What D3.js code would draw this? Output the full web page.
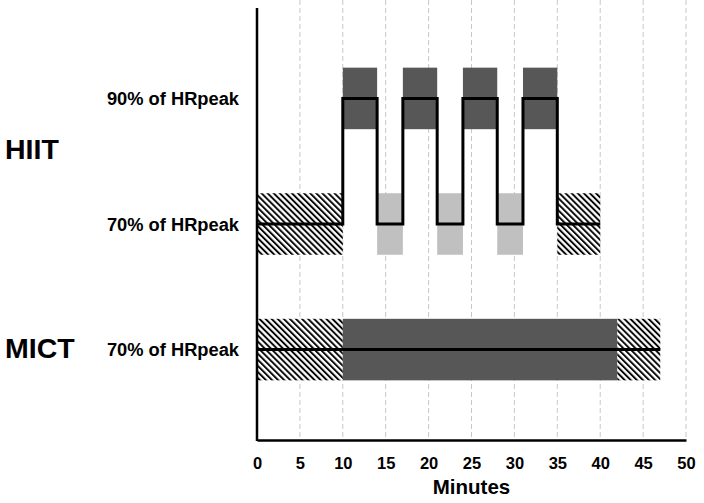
<!DOCTYPE html>
<html><head><meta charset="utf-8">
<script src="https://cdn.jsdelivr.net/npm/d3@7"></script>
<style>body{margin:0;background:#fff;} text{font-family:"Liberation Sans",Arial,sans-serif;font-weight:bold;fill:#000;}</style>
</head><body>
<svg id="c" width="704" height="503"></svg>
<script>
// ---- data ----
const rows = ["HIIT 90%", "HIIT 70%", "MICT 70%"];
const rowLabels = ["90% of HRpeak", "70% of HRpeak", "70% of HRpeak"];
const groupLabels = ["HIIT", "MICT"];
const xTicks = [0, 5, 10, 15, 20, 25, 30, 35, 40, 45, 50];
// HIIT blocks: [start, end, row, kind]
const hiitStart = [0, 10, 14, 17, 21, 24, 28, 31, 35];
const hiitEnd   = [10, 14, 17, 21, 24, 28, 31, 35, 40];
const hiitRow   = ["HIIT 70%", "HIIT 90%", "HIIT 70%", "HIIT 90%", "HIIT 70%", "HIIT 90%", "HIIT 70%", "HIIT 90%", "HIIT 70%"];
const hiitKind  = ["hatch", "dark", "light", "dark", "light", "dark", "light", "dark", "hatch"];
// MICT blocks
const mictStart = [0, 10, 42];
const mictEnd   = [10, 42, 47];
const mictRow   = ["MICT 70%", "MICT 70%", "MICT 70%"];
const mictKind  = ["hatch", "dark", "hatch"];

// ---- drawing ----
const svg = d3.select("#c");
const x = d3.scaleLinear().domain([0, 50]).range([257, 686]);
const y = d3.scalePoint().domain(rows).range([8, 440]).padding(0.72);
const half = y.step() * 0.245;
const fills = {dark: "#575757", light: "#c0c0c0", hatch: "url(#hatch)"};

const defs = svg.append("defs");
const pat = defs.append("pattern").attr("id", "hatch").attr("patternUnits", "userSpaceOnUse")
  .attr("width", 4.3).attr("height", 4.3).attr("patternTransform", "rotate(-45)");
pat.append("rect").attr("width", 4.3).attr("height", 4.3).attr("fill", "#fff");
pat.append("line").attr("x1", 1).attr("x2", 1).attr("y1", 0).attr("y2", 4.3)
  .attr("stroke", "#000").attr("stroke-width", 1.9);

// grid
svg.append("g").selectAll("line").data(xTicks.filter(d => d > 0)).join("line")
  .attr("x1", d => x(d)).attr("x2", d => x(d)).attr("y1", 0).attr("y2", 438)
  .attr("stroke", "#c8c8c8").attr("stroke-width", 1).attr("stroke-dasharray", "5,3");

function blocks(starts, ends, rws, kinds) {
  return starts.map((s, i) => ({s, e: ends[i], r: rws[i], k: kinds[i]}));
}
const allBlocks = blocks(hiitStart, hiitEnd, hiitRow, hiitKind).concat(blocks(mictStart, mictEnd, mictRow, mictKind));
svg.append("g").selectAll("rect").data(allBlocks).join("rect")
  .attr("x", d => x(d.s)).attr("width", d => x(d.e) - x(d.s))
  .attr("y", d => y(d.r) - half).attr("height", 2 * half)
  .attr("fill", d => fills[d.k]);

// step lines
const line = d3.line().x(d => x(d[0])).y(d => y(d[1])).curve(d3.curveStepAfter);
const hiitPts = hiitStart.map((s, i) => [s, hiitRow[i]]).concat([[hiitEnd[hiitEnd.length - 1], hiitRow[hiitRow.length - 1]]]);
const mictPts = mictStart.map((s, i) => [s, mictRow[i]]).concat([[mictEnd[mictEnd.length - 1], mictRow[mictRow.length - 1]]]);
[hiitPts, mictPts].forEach(p => svg.append("path").attr("d", line(p))
  .attr("fill", "none").attr("stroke", "#000").attr("stroke-width", 3));

// axes
const xAxis = svg.append("g").attr("transform", "translate(0,440)")
  .call(d3.axisBottom(x).tickValues(xTicks).tickSize(0).tickPadding(17).tickSizeOuter(0));
xAxis.attr("font-size", 16.5).attr("font-family", "Liberation Sans, Arial").attr("font-weight", "bold");
xAxis.select(".domain").attr("stroke", "#000").attr("stroke-width", 2.5);
xAxis.selectAll("text").style("font-size", "16.5px");
svg.append("line").attr("x1", 257).attr("x2", 257).attr("y1", 8).attr("y2", 441)
  .attr("stroke", "#000").attr("stroke-width", 2.5);

svg.append("text").attr("x", x(25)).attr("y", 494).attr("text-anchor", "middle")
  .style("font-size", "20.5px").text("Minutes");

// row labels
svg.append("g").selectAll("text").data(rows).join("text")
  .attr("x", 239).attr("y", d => y(d)).attr("dy", "0.36em").attr("text-anchor", "end")
  .style("font-size", "18.3px").text((d, i) => rowLabels[i]);

// group labels
svg.append("text").attr("x", 5).attr("y", (y("HIIT 90%") + y("HIIT 70%")) / 2 - 12).attr("dy", "0.36em")
  .style("font-size", "28.5px").text(groupLabels[0]);
svg.append("text").attr("x", 5).attr("y", y("MICT 70%") - 2).attr("dy", "0.36em")
  .style("font-size", "28.5px").text(groupLabels[1]);
</script>
</body></html>
